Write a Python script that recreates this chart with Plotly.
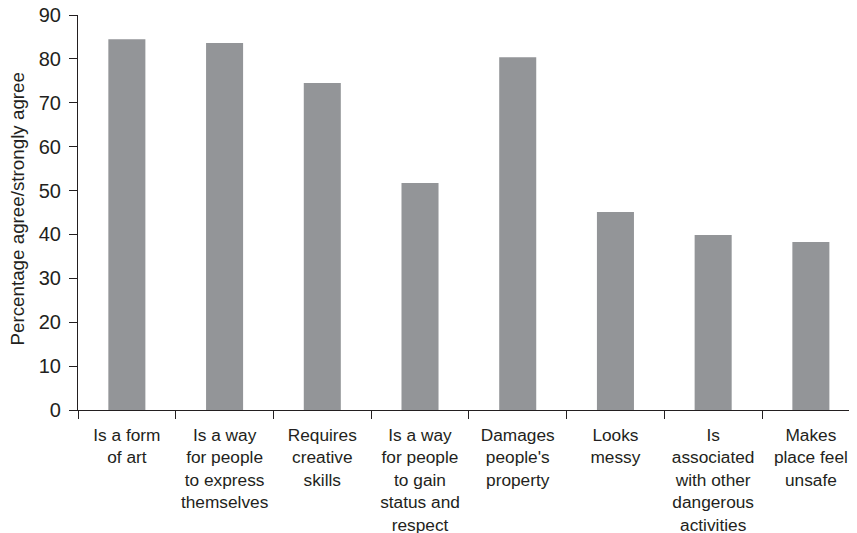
import plotly.graph_objects as go

categories = [
    "Is a form<br>of art",
    "Is a way<br>for people<br>to express<br>themselves",
    "Requires<br>creative<br>skills",
    "Is a way<br>for people<br>to gain<br>status and<br>respect",
    "Damages<br>people's<br>property",
    "Looks<br>messy",
    "Is<br>associated<br>with other<br>dangerous<br>activities",
    "Makes<br>place feel<br>unsafe",
]
values = [84.5, 83.6, 74.5, 51.7, 80.4, 45.1, 39.9, 38.3]
y_ticks = [0, 10, 20, 30, 40, 50, 60, 70, 80, 90]
y_title = "Percentage agree/strongly agree"

ink = "#231f20"
fig = go.Figure(go.Bar(x=categories, y=values, marker_color="#939598",
                       marker_line_width=0))

# page body has an 8px default margin, so the figure is sized to fit inside
fig.update_layout(
    width=849, height=525,
    margin=dict(l=70, r=0, t=7, b=123, autoexpand=False),
    plot_bgcolor="white", paper_bgcolor="white",
    bargap=0.621,
    font=dict(family="Liberation Sans, Arial, sans-serif", size=17, color=ink),
    showlegend=False,
)
fig.update_xaxes(
    type="category", tickson="boundaries", ticks="outside", ticklen=8,
    tickcolor=ink, showline=True, linecolor=ink, linewidth=1.2,
    showgrid=False, tickangle=0, tickfont=dict(size=17.3), automargin=False,
    range=[-0.5, 7.472], ticklabelstandoff=9, ticklabeloverflow="allow",
)
fig.update_yaxes(
    range=[0, 90], tickvals=y_ticks, ticks="outside", ticklen=8,
    tickcolor=ink, showline=True, linecolor=ink, linewidth=1.2,
    showgrid=False, zeroline=False, tickfont=dict(size=20), automargin=False,
    ticklabelstandoff=4, ticklabeloverflow="allow",
)
fig.add_annotation(
    text=y_title, xref="paper", yref="paper", x=(18 - 78) / 779, y=0.51,
    xanchor="center", yanchor="middle", textangle=-90, showarrow=False,
    font=dict(size=18.8, color=ink),
)
fig.write_html("out.html")
